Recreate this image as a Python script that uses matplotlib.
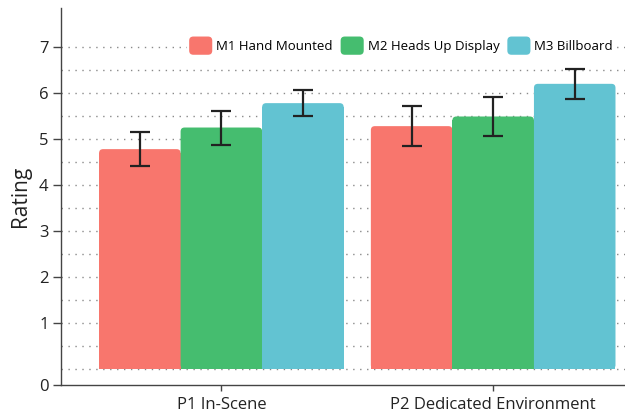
import numpy as np
import matplotlib
matplotlib.use("Agg")
import matplotlib.pyplot as plt
from matplotlib.patches import FancyBboxPatch, Patch
from matplotlib.legend_handler import HandlerPatch

# data
groups = ["P1 In-Scene", "P2 Dedicated Environment"]
methods = ["M1 Hand Mounted", "M2 Heads Up Display", "M3 Billboard"]
means = [
    [4.78, 5.28],   # M1
    [5.25, 5.49],   # M2
    [5.78, 6.20],   # M3
]
errors = [
    [0.37, 0.44],
    [0.37, 0.43],
    [0.29, 0.33],
]
colors = ["#F8766D", "#45BD6F", "#62C3D2"]

plt.rcParams["font.family"] = ["Open Sans", "DejaVu Sans"]

fig = plt.figure(figsize=(6.25, 4.18), dpi=100)
ax = fig.add_axes([0.0976, 0.079, 0.9024, 0.902])

x = np.arange(len(groups))
width = 0.3
ylo, yhi = -0.348, 7.85
xlo, xhi = -0.59, 1.485
ax.set_xlim(xlo, xhi)
ax.set_ylim(ylo, yhi)

# rounding radius in pixels -> data units
bb = ax.get_window_extent()
px_x = (xhi - xlo) / bb.width
px_y = (yhi - ylo) / bb.height
r = 4 * px_x
aspect = px_y / px_x

# dotted grid every 0.5 up to 7
for g in np.arange(0, 7.5, 0.5):
    ax.axhline(g, color="#8a8a8a", lw=1.0, ls=(0, (1, 4)), zorder=0.5)

for i, m in enumerate(methods):
    pos = x + (i - 1) * width
    bars = ax.bar(pos, np.array(means[i]) - 4 * px_y, width, color=colors[i],
                  edgecolor="none", zorder=2)
    for rect, h in zip(bars, means[i]):
        ax.add_patch(FancyBboxPatch((rect.get_x(), 0), rect.get_width(), h,
                                    boxstyle=f"round,pad=0,rounding_size={r}",
                                    mutation_aspect=aspect, facecolor=colors[i],
                                    edgecolor="none", zorder=2))
    ax.errorbar(pos, means[i], yerr=errors[i], fmt="none", ecolor="#222222",
                elinewidth=1.6, capsize=7, capthick=1.6, zorder=3)

# axes styling
for s in ["top", "right"]:
    ax.spines[s].set_visible(False)
for s in ["left", "bottom"]:
    ax.spines[s].set_color("#444444")
    ax.spines[s].set_linewidth(1.0)

ax.set_yticks([ylo] + list(range(1, 8)))
ax.set_yticklabels(["0"] + [str(v) for v in range(1, 8)], fontsize=12, color="#222222")
ax.tick_params(axis="y", length=6, width=1, color="#444444", pad=3)
ax.set_xticks(x)
ax.set_xticklabels(groups, fontsize=12, color="#222222")
ax.tick_params(axis="x", length=4, width=1, color="#444444", pad=5)
ax.set_ylabel("Rating", fontsize=15, color="#222222", labelpad=6)


def rounded_handle(legend, orig_handle, xdescent, ydescent, width, height, fontsize):
    return FancyBboxPatch((-xdescent, -ydescent), width, height,
                          boxstyle="round,pad=0,rounding_size=3")


handles = [Patch(facecolor=c, edgecolor="none") for c in colors]
leg = ax.legend(handles, methods, loc="center", bbox_to_anchor=(0.603, 0.9),
                ncol=3, frameon=True, fontsize=9.5, handlelength=1.75,
                handleheight=1.75, handletextpad=0.3, columnspacing=0.6,
                borderpad=0.2, handler_map={Patch: HandlerPatch(patch_func=rounded_handle)})
leg.get_frame().set_facecolor("white")
leg.get_frame().set_edgecolor("none")
leg.get_frame().set_alpha(1)
leg.set_zorder(4)

fig.savefig("out.png", dpi=100)
